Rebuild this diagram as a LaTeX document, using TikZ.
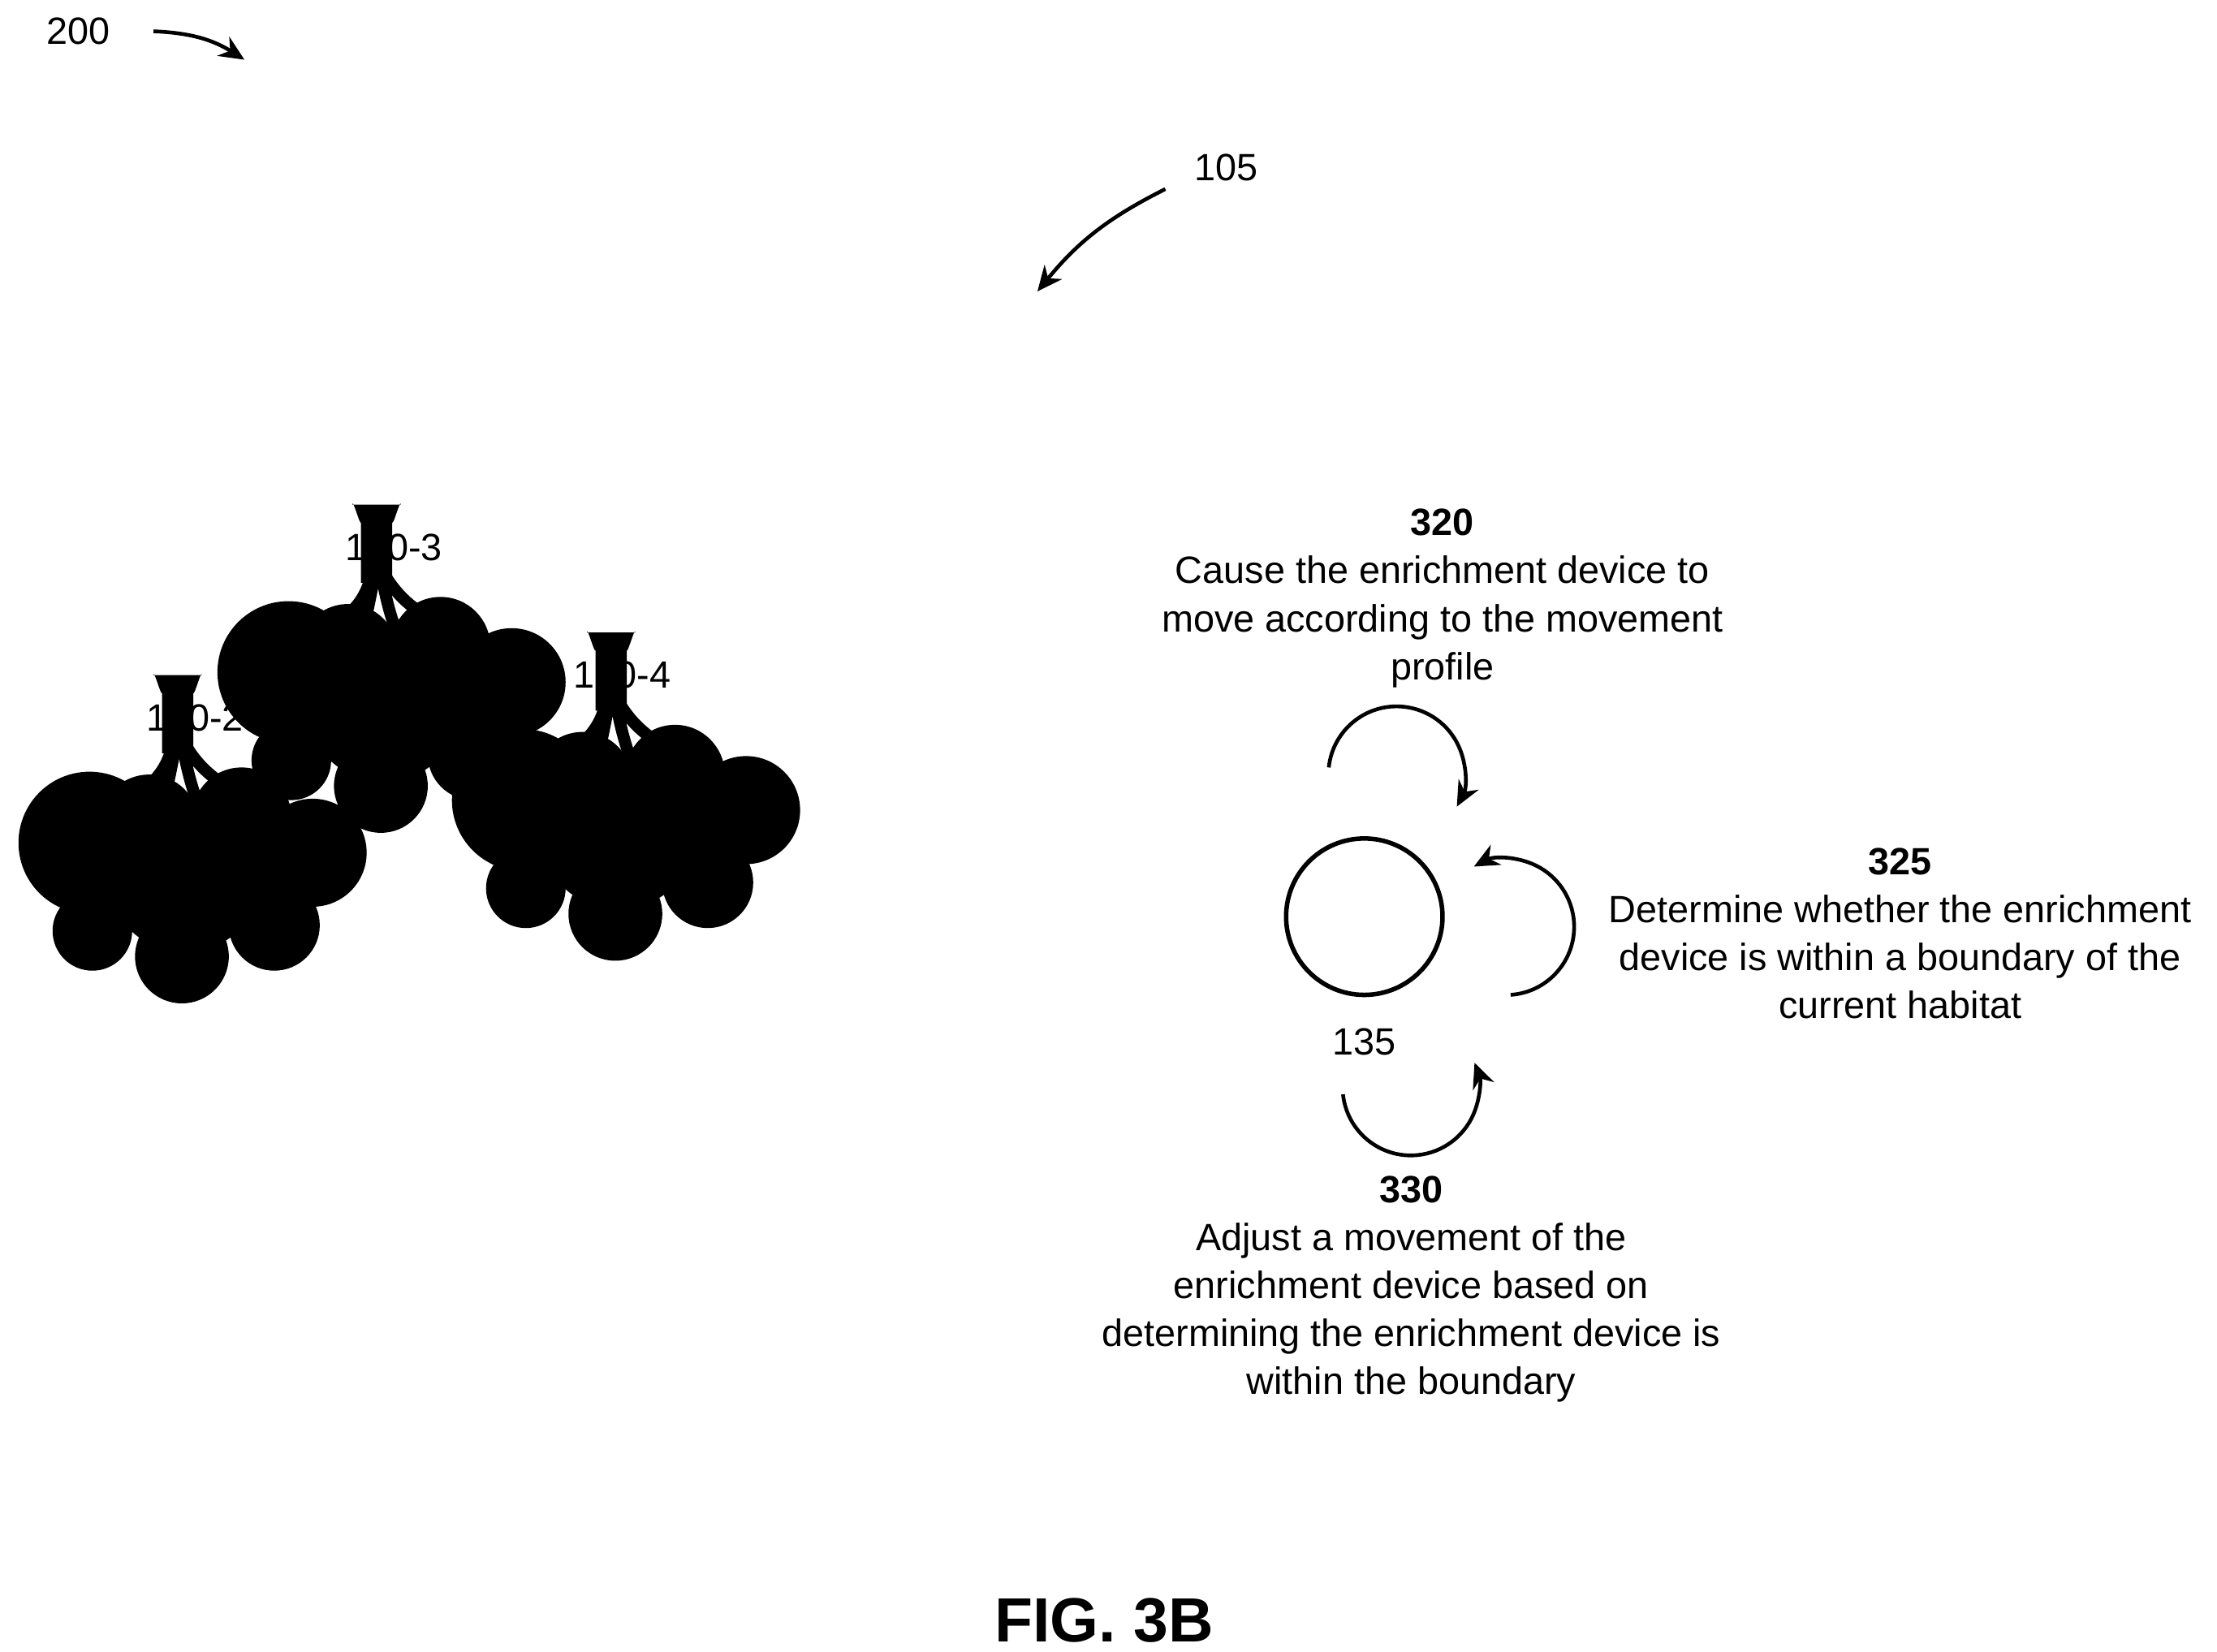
\documentclass[tikz,border=0pt]{standalone}
\usepackage{fontspec}
\setmainfont{Liberation Sans}
\usetikzlibrary{arrows.meta, positioning}

\tikzset{
    lbl/.style={font=\fontsize{7.6}{9.6}\selectfont, inner sep=0pt},
    stepbox/.style={lbl, align=center},
    turn/.style={line width=0.75pt, -{Stealth[length=5pt, width=4.5pt]}},
    tree/.pic={
        % canopy
        \fill[black] (-60,180) circle (28) (3,198) circle (33) (68,176) circle (32)
            (-62,118) circle (50) (95,125) circle (38) (5,140) circle (55)
            (50,140) circle (45) (-20,105) circle (35) (45,100) circle (35);
        % trunk
        \fill[black] (-17,0) -- (17,0) to[out=90,in=-90] (11,12) -- (11,55)
            -- (-11,55) -- (-11,12) to[out=-90,in=90] cycle;
        % branches
        \draw[black, line width=2.4pt, line cap=round]
            (-4,50) .. controls (-10,80) and (-40,95) .. (-85,100)
            (-2,52) .. controls (-6,75) and (-10,90) .. (-15,108)
            (4,52) .. controls (8,75) and (15,95) .. (22,108)
            (6,50) .. controls (30,90) and (70,85) .. (85,112);
    }
}

\begin{document}
\begin{tikzpicture}[x=0.01cm, y=-0.01cm]
    \useasboundingbox (0,0) rectangle (1560,1162);

    % reference labels
    \node[lbl] (fig) at (55,22) {200};
    \coordinate (figend) at (172,42);
    \draw[turn] (108,22) to[bend left=15] (figend);
    \node[lbl] (area) at (863,118) {105};
    \coordinate (areaend) at (730,205);
    \draw[turn] (820,133) to[bend right=12] (areaend);

    % trees
    \pic at (265,355) {tree};
    \pic at (430,445) {tree};
    \pic at (125,475) {tree};
    \node[lbl] (t3) at (277,385) {120-3};
    \node[lbl] (t4) at (438,475) {120-4};
    \node[lbl] (t2) at (137,505) {120-2};

    % enrichment device
    \node[circle, draw, line width=0.9pt, minimum size=1.1cm] (dev) at (960,645) {};
    \node[lbl] (devlbl) at (960,733) {135};

    % steps
    \node[stepbox] (s320) at (1015,421) {\textbf{320}\\Cause the enrichment device to\\move according to the movement\\profile};
    \node[stepbox] (s325) at (1337,657) {\textbf{325}\\Determine whether the enrichment\\device is within a boundary of the\\current habitat};
    \node[stepbox] (s330) at (993,907) {\textbf{330}\\Adjust a movement of the\\enrichment device based on\\determining the enrichment device is\\within the boundary};

    % motion arrows
    \draw[turn] (935,540) arc[start angle=186, end angle=388, radius=48];
    \draw[turn] (1063,700) arc[start angle=86, end angle=-118, radius=48];
    \draw[turn] (945,770) arc[start angle=174, end angle=-21, radius=48];

    \node[font=\bfseries\fontsize{12.5}{14}\selectfont, inner sep=0pt] (caption) at (777,1140) {FIG. 3B};
\end{tikzpicture}
\end{document}
